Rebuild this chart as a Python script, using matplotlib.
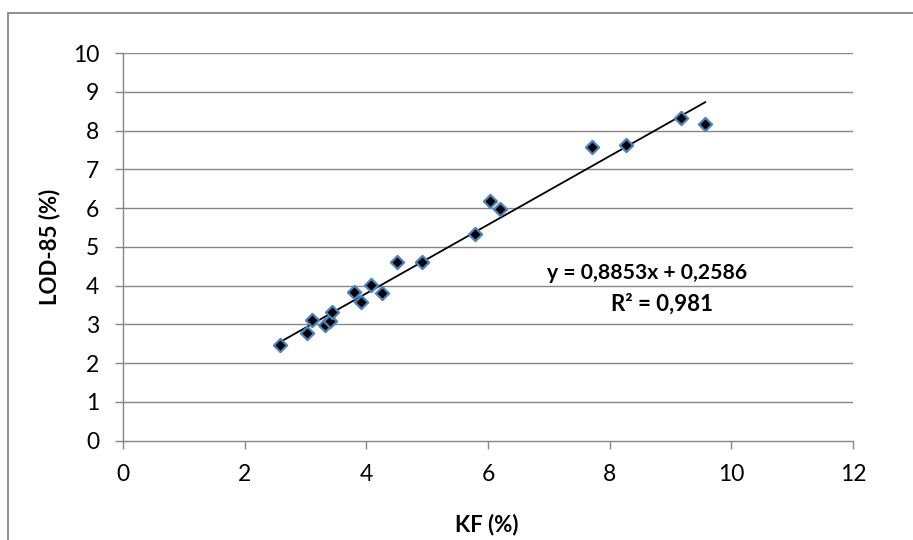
import matplotlib
matplotlib.use("Agg")
import matplotlib.pyplot as plt
from matplotlib.patches import Rectangle
import numpy as np

plt.rcParams['font.family'] = ['Lato', 'DejaVu Sans']

kf = [2.58, 3.03, 3.11, 3.32, 3.40, 3.43, 3.80, 3.92, 4.07, 4.26, 4.51, 4.92,
      5.79, 6.04, 6.19, 7.71, 8.27, 9.18, 9.57]
lod85 = [2.47, 2.78, 3.12, 2.99, 3.10, 3.33, 3.83, 3.57, 4.02, 3.81, 4.60, 4.60,
         5.32, 6.18, 5.98, 7.58, 7.62, 8.33, 8.18]
slope = 0.8853
intercept = 0.2586
eq_text = "y = 0,8853x + 0,2586"
r2_text = "R² = 0,981"
xticks = [0, 2, 4, 6, 8, 10, 12]
yticks = list(range(0, 11))

fig = plt.figure(figsize=(9.13, 5.40), dpi=100)
ax = fig.add_axes([123/913, 1-440.7/540, (853-123)/913, (440.7-53)/540])

grid_c = '#868686'
for y in yticks[1:]:
    ax.axhline(y, color=grid_c, lw=1.0, zorder=1)

xl = np.array([min(kf), max(kf)])
ax.plot(xl, slope*xl + intercept, color='black', lw=1.3, zorder=2)
ax.scatter(kf, lod85, marker='D', s=45, facecolor='black', edgecolor='#4F81BD',
           linewidths=1.6, zorder=3)

ax.set_xlim(0, 12)
ax.set_ylim(0, 10)
ax.set_xticks(xticks)
ax.set_yticks(yticks)
ax.set_xticklabels([str(t) for t in xticks])
ax.set_yticklabels([str(t) for t in yticks])
for s in ['top', 'right']:
    ax.spines[s].set_visible(False)
for s in ['left', 'bottom']:
    ax.spines[s].set_color(grid_c)
    ax.spines[s].set_linewidth(1.0)
ax.tick_params(axis='both', direction='out', length=6, width=1.0, color=grid_c,
               labelsize=16.5, labelcolor='black')
ax.tick_params(axis='x', pad=11)
ax.tick_params(axis='y', pad=11)

fig.text(49.5/913, 1-247/540, "LOD-85 (%)", rotation=90, ha='center', va='center',
         fontsize=16, fontweight='bold')
fig.text(487/913, 1-525/540, "KF (%)", ha='center', va='center',
         fontsize=16, fontweight='bold')
fig.text(647/913, 1-273/540, eq_text, ha='center', va='center',
         fontsize=15.2, fontweight='bold')
fig.text(662/913, 1-304/540, r2_text, ha='center', va='center',
         fontsize=16, fontweight='bold')

fig.patches.append(Rectangle((8/913, -0.01), (913-8)/913 + 0.02, (540-13)/540 + 0.01,
                             transform=fig.transFigure, fill=False,
                             edgecolor='#868686', lw=1.3))

fig.savefig('out.png', dpi=100)
